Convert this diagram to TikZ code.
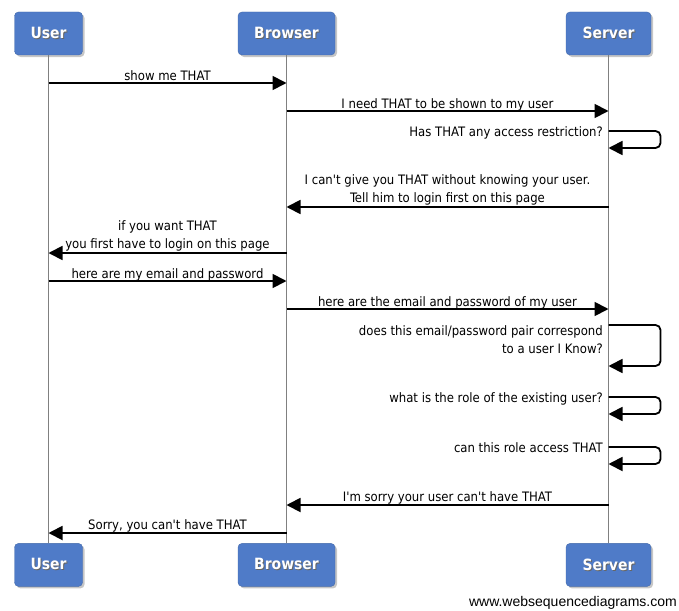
\documentclass[tikz,border=0pt]{standalone}
\usepackage{fontspec}
\setmainfont{DejaVu Sans Condensed}
\newfontfamily\footfont{Liberation Sans}
\usetikzlibrary{arrows.meta,shadows,positioning}
\definecolor{actorblue}{HTML}{4F7BC8}
\newcommand{\actortitle}[1]{\makebox[0pt][l]{\hspace{1pt}\raisebox{-1pt}{\textcolor{black!60}{#1}}}#1}
\newcommand{\apos}{\textquotesingle}

\begin{document}
\begin{tikzpicture}[
  x=1pt, y=-1pt,
  %  styles des acteurs, lignes de vie et messages
  actor_style/.style={rectangle, rounded corners=4pt, fill=actorblue, draw=actorblue!85!black, thin, minimum height=43pt, inner sep=0pt, text=white, font=\fontsize{15.5}{18}\selectfont\bfseries, drop shadow={shadow xshift=2pt, shadow yshift=-2pt, opacity=0.45}},
  lifeline_style/.style={draw=black!50, line width=1.6pt},
  message_style/.style={draw=black, line width=1.8pt, -{Triangle[length=14pt, width=14pt]}},
  loop_style/.style={message_style, rounded corners=5pt},
  label_style/.style={font=\fontsize{13}{18}\selectfont, inner sep=0pt, align=center}
]
\useasboundingbox (0,0) rectangle (679,610);

%  Acteurs en haut
\node[actor_style, minimum width=68pt] (user) at (48.5,33.5) {\actortitle{User}};
\node[actor_style, minimum width=97pt] (browser) at (286.5,33.5) {\actortitle{Browser}};
\node[actor_style, minimum width=85pt] (server) at (608.5,33.5) {\actortitle{Server}};

%  Acteurs en bas
\node[actor_style, minimum width=68pt, below=488pt of user] (user_end) {\actortitle{User}};
\node[actor_style, minimum width=97pt, below=488pt of browser] (browser_end) {\actortitle{Browser}};
\node[actor_style, minimum width=85pt, below=488pt of server] (server_end) {\actortitle{Server}};

%  Lignes de vie
\draw[lifeline_style] (user.south) -- (user_end.north);
\draw[lifeline_style] (browser.south) -- (browser_end.north);
\draw[lifeline_style] (server.south) -- (server_end.north);

%  Hauteurs des messages
\coordinate (m1) at (0,83);
\coordinate (m2) at (0,111);
\coordinate (s1) at (0,131);
\coordinate (s1_end) at (0,148);
\coordinate (m3) at (0,207);
\coordinate (m4) at (0,253);
\coordinate (m5) at (0,281);
\coordinate (m6) at (0,309);
\coordinate (s2) at (0,325);
\coordinate (s2_end) at (0,366);
\coordinate (s3) at (0,397);
\coordinate (s3_end) at (0,414);
\coordinate (s4) at (0,447);
\coordinate (s4_end) at (0,464);
\coordinate (m7) at (0,505);
\coordinate (m8) at (0,533);

%  Messages
\draw[message_style] (user |- m1) -- (browser |- m1)
    node[label_style, midway, anchor=base, yshift=3pt] (t_m1) {show me THAT};
\draw[message_style] (browser |- m2) -- (server |- m2)
    node[label_style, midway, anchor=base, yshift=3pt] (t_m2) {I need THAT to be shown to my user};
\draw[loop_style] (server |- s1) -- ++(52,0) |- (server |- s1_end);
\node[label_style, anchor=base east] (t_s1) at (603,136) {Has THAT any access restriction?};
\draw[message_style] (server |- m3) -- (browser |- m3)
    node[label_style, midway, anchor=south, yshift=1pt] (t_m3) {I can\apos{}t give you THAT without knowing your user.\\Tell him to login first on this page};
\draw[message_style] (browser |- m4) -- (user |- m4)
    node[label_style, midway, anchor=south, yshift=1pt] (t_m4) {if you want THAT\\you first have to login on this page};
\draw[message_style] (user |- m5) -- (browser |- m5)
    node[label_style, midway, anchor=base, yshift=3pt] (t_m5) {here are my email and password};
\draw[message_style] (browser |- m6) -- (server |- m6)
    node[label_style, midway, anchor=base, yshift=3pt] (t_m6) {here are the email and password of my user};
\draw[loop_style] (server |- s2) -- ++(52,0) |- (server |- s2_end);
\node[label_style, align=right, anchor=north east] (t_s2) at (603,325) {does this email/password pair correspond\\to a user I Know?};
\draw[loop_style] (server |- s3) -- ++(52,0) |- (server |- s3_end);
\node[label_style, anchor=base east] (t_s3) at (603,402) {what is the role of the existing user?};
\draw[loop_style] (server |- s4) -- ++(52,0) |- (server |- s4_end);
\node[label_style, anchor=base east] (t_s4) at (603,452) {can this role access THAT};
\draw[message_style] (server |- m7) -- (browser |- m7)
    node[label_style, midway, anchor=base, yshift=4pt] (t_m7) {I\apos{}m sorry your user can\apos{}t have THAT};
\draw[message_style] (browser |- m8) -- (user |- m8)
    node[label_style, midway, anchor=base, yshift=4pt] (t_m8) {Sorry, you can\apos{}t have THAT};

%  Signature
\node[font=\footfont\fontsize{14}{16}\selectfont, inner sep=0pt, anchor=base east] (footer) at (677,606) {www.websequencediagrams.com};
\end{tikzpicture}
\end{document}
